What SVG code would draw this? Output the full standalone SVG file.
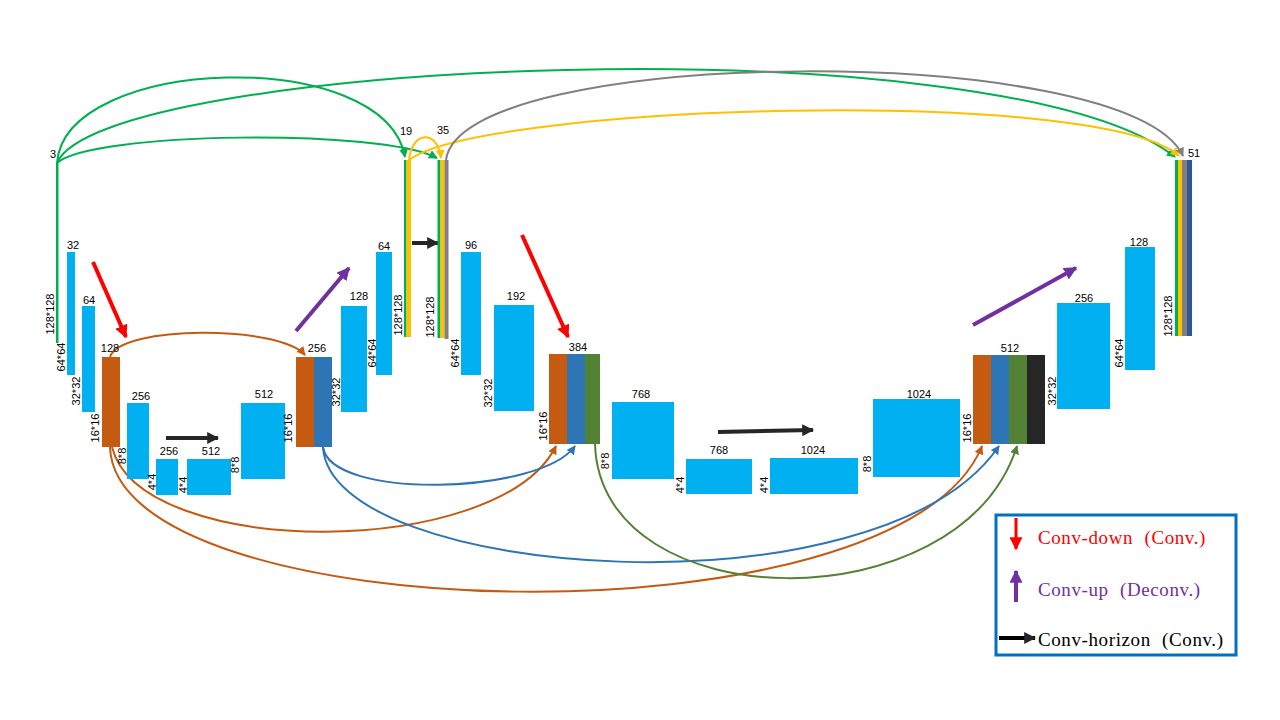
<svg xmlns="http://www.w3.org/2000/svg" width="1280" height="720" viewBox="0 0 1280 720">
<style>
.c{fill:#00B0F0}
.br{fill:#C55A11}.bl{fill:#2E75B6}.gr{fill:#548235}.bk{fill:#262626}
.g{fill:#00B050}.y{fill:#FFC000}.gy{fill:#808080}.db{fill:#2F5597}
text{font-family:"Liberation Sans",Arial,sans-serif;font-size:11px;fill:#000}
.t{text-anchor:middle}
.r{text-anchor:middle}
.lg{font-family:"Liberation Serif","Times New Roman",serif;font-size:19px;letter-spacing:0.6px;word-spacing:6px}
.arc{fill:none;stroke-width:2}
</style>
<defs>
<marker id="mG" viewBox="0 0 10 10" refX="9" refY="5" markerUnits="userSpaceOnUse" markerWidth="9" markerHeight="9" orient="auto"><path d="M0,0L10,5L0,10z" fill="#00B050"/></marker>
<marker id="mY" viewBox="0 0 10 10" refX="9" refY="5" markerUnits="userSpaceOnUse" markerWidth="9" markerHeight="9" orient="auto"><path d="M0,0L10,5L0,10z" fill="#FFC000"/></marker>
<marker id="mGy" viewBox="0 0 10 10" refX="9" refY="5" markerUnits="userSpaceOnUse" markerWidth="9" markerHeight="9" orient="auto"><path d="M0,0L10,5L0,10z" fill="#808080"/></marker>
<marker id="mBr" viewBox="0 0 10 10" refX="9" refY="5" markerUnits="userSpaceOnUse" markerWidth="9" markerHeight="9" orient="auto"><path d="M0,0L10,5L0,10z" fill="#C55A11"/></marker>
<marker id="mBl" viewBox="0 0 10 10" refX="9" refY="5" markerUnits="userSpaceOnUse" markerWidth="9" markerHeight="9" orient="auto"><path d="M0,0L10,5L0,10z" fill="#2E75B6"/></marker>
<marker id="mGr" viewBox="0 0 10 10" refX="9" refY="5" markerUnits="userSpaceOnUse" markerWidth="9" markerHeight="9" orient="auto"><path d="M0,0L10,5L0,10z" fill="#548235"/></marker>
<marker id="mR" viewBox="0 0 10 10" refX="9" refY="5" markerUnits="userSpaceOnUse" markerWidth="13" markerHeight="13" orient="auto"><path d="M0,0L10,5L0,10z" fill="#FF0000"/></marker>
<marker id="mP" viewBox="0 0 10 10" refX="9" refY="5" markerUnits="userSpaceOnUse" markerWidth="13" markerHeight="13" orient="auto"><path d="M0,0L10,5L0,10z" fill="#7030A0"/></marker>
<marker id="mK" viewBox="0 0 10 10" refX="9" refY="5" markerUnits="userSpaceOnUse" markerWidth="12" markerHeight="12" orient="auto"><path d="M0,0L10,5L0,10z" fill="#262626"/></marker>
</defs>
<rect width="1280" height="720" fill="#fff"/>

<g id="connectors">
<path class="arc" d="M57,163 C65,55 385,45 405,157" stroke="#00B050" stroke-width="3" marker-end="url(#mG)"/>
<path class="arc" d="M57,163 C90,132 380,128 437,158" stroke="#00B050" marker-end="url(#mG)"/>
<path class="arc" d="M57,163 C100,60 1000,20 1175,157" stroke="#00B050" marker-end="url(#mG)"/>
<path class="arc" d="M409,160 C412,130 438,130 441,158" stroke="#FFC000" marker-end="url(#mY)"/>
<path class="arc" d="M409,160 C480,105 1100,85 1179,156" stroke="#FFC000" marker-end="url(#mY)"/>
<path class="arc" d="M446,160 C460,45 1130,40 1183,156" stroke="#808080" marker-end="url(#mGy)"/>
<path class="arc" d="M110,357 C120,325 280,325 305,355" stroke="#C55A11" stroke-width="2.5" marker-end="url(#mBr)"/>
<path class="arc" d="M112,447 C140,560 500,560 556,446" stroke="#C55A11" marker-end="url(#mBr)"/>
<path class="arc" d="M110,447 C115,630 900,650 982,446" stroke="#C55A11" marker-end="url(#mBr)"/>
<path class="arc" d="M323,447 C330,500 540,495 575,446" stroke="#2E75B6" marker-end="url(#mBl)"/>
<path class="arc" d="M323,447 C330,580 880,620 999,446" stroke="#2E75B6" marker-end="url(#mBl)"/>
<path class="arc" d="M595,444 C600,620 960,625 1017,446" stroke="#548235" marker-end="url(#mGr)"/>
<line x1="93" y1="262" x2="126" y2="337" stroke="#FF0000" stroke-width="4" marker-end="url(#mR)"/>
<line x1="522" y1="235" x2="568" y2="337" stroke="#FF0000" stroke-width="4" marker-end="url(#mR)"/>
<line x1="296" y1="331" x2="349" y2="268" stroke="#7030A0" stroke-width="4" marker-end="url(#mP)"/>
<line x1="973" y1="325" x2="1076" y2="268" stroke="#7030A0" stroke-width="4" marker-end="url(#mP)"/>
<line x1="166" y1="438" x2="218" y2="438" stroke="#262626" stroke-width="4" marker-end="url(#mK)"/>
<line x1="412" y1="243" x2="438" y2="243" stroke="#262626" stroke-width="4" marker-end="url(#mK)"/>
<line x1="718" y1="432" x2="813" y2="430" stroke="#262626" stroke-width="4" marker-end="url(#mK)"/>
</g>

<g id="n-input"><rect class="g" x="56" y="163" width="2.5" height="180"/><text class="t" x="53" y="158">3</text>
<text transform="translate(54,314) rotate(-90)" class="r">128*128</text></g>
<g id="n-e1"><rect class="c" x="67" y="252" width="8" height="123"/><text class="t" x="73" y="249">32</text>
<text transform="translate(65,357) rotate(-90)" class="r">64*64</text></g>
<g id="n-e2"><rect class="c" x="82" y="306" width="13" height="106"/><text class="t" x="89" y="304">64</text>
<text transform="translate(80,391) rotate(-90)" class="r">32*32</text></g>
<g id="n-e3"><rect class="br" x="102" y="357" width="18" height="90"/><text class="t" x="110" y="352">128</text>
<text transform="translate(99,428) rotate(-90)" class="r">16*16</text></g>
<g id="n-e4"><rect class="c" x="127" y="403" width="22" height="76"/><text class="t" x="141" y="400">256</text>
<text transform="translate(126,456) rotate(-90)" class="r">8*8</text></g>
<g id="n-e5"><rect class="c" x="156" y="459" width="22" height="36"/><text class="t" x="169" y="455">256</text>
<text transform="translate(156,482) rotate(-90)" class="r">4*4</text></g>
<g id="n-e6"><rect class="c" x="187" y="459" width="44" height="36"/><text class="t" x="211" y="455">512</text>
<text transform="translate(187,485) rotate(-90)" class="r">4*4</text></g>
<g id="n-d1"><rect class="c" x="241" y="403" width="44" height="76"/><text class="t" x="264" y="398">512</text>
<text transform="translate(239,465) rotate(-90)" class="r">8*8</text></g>
<g id="n-d2"><rect class="br" x="296" y="357" width="18" height="90"/><rect class="bl" x="314" y="357" width="18" height="90"/><text class="t" x="317" y="352">256</text>
<text transform="translate(292,428) rotate(-90)" class="r">16*16</text></g>
<g id="n-d3"><rect class="c" x="341" y="306" width="26" height="106"/><text class="t" x="359" y="300">128</text>
<text transform="translate(340,392) rotate(-90)" class="r">32*32</text></g>
<g id="n-d4"><rect class="c" x="376" y="252" width="16" height="123"/><text class="t" x="384" y="250">64</text>
<text transform="translate(376,353) rotate(-90)" class="r">64*64</text></g>
<g id="n-o1"><rect class="g" x="404" y="160" width="2.5" height="177"/><rect class="y" x="406.5" y="160" width="4.5" height="177"/><text class="t" x="406" y="135">19</text>
<text transform="translate(402,315) rotate(-90)" class="r">128*128</text></g>
<g id="n-o2"><rect class="g" x="437.5" y="160" width="3" height="178"/><rect class="y" x="440.5" y="160" width="4" height="178"/><rect class="gy" x="444.5" y="160" width="4" height="179"/><text class="t" x="443" y="134">35</text>
<text transform="translate(434,317) rotate(-90)" class="r">128*128</text></g>
<g id="n-f1"><rect class="c" x="461" y="252" width="20" height="123"/><text class="t" x="471" y="249">96</text>
<text transform="translate(459,353) rotate(-90)" class="r">64*64</text></g>
<g id="n-f2"><rect class="c" x="494" y="305" width="40" height="106"/><text class="t" x="516" y="300">192</text>
<text transform="translate(492,393) rotate(-90)" class="r">32*32</text></g>
<g id="n-f3"><rect class="br" x="549" y="354" width="18" height="90"/><rect class="bl" x="567" y="354" width="18" height="90"/><rect class="gr" x="585" y="354" width="15" height="90"/><text class="t" x="578" y="351">384</text>
<text transform="translate(547,426) rotate(-90)" class="r">16*16</text></g>
<g id="n-f4"><rect class="c" x="612" y="402" width="62" height="77"/><text class="t" x="641" y="398">768</text>
<text transform="translate(609,461) rotate(-90)" class="r">8*8</text></g>
<g id="n-f5"><rect class="c" x="686" y="459" width="66" height="35"/><text class="t" x="719" y="454">768</text>
<text transform="translate(684,485) rotate(-90)" class="r">4*4</text></g>
<g id="n-f6"><rect class="c" x="770" y="458" width="88" height="36"/><text class="t" x="813" y="454">1024</text>
<text transform="translate(768,485) rotate(-90)" class="r">4*4</text></g>
<g id="n-g1"><rect class="c" x="873" y="399" width="87" height="78"/><text class="t" x="919" y="398">1024</text>
<text transform="translate(871,464) rotate(-90)" class="r">8*8</text></g>
<g id="n-g2"><rect class="br" x="973" y="355" width="18" height="89"/><rect class="bl" x="991" y="355" width="18" height="89"/><rect class="gr" x="1009" y="355" width="18" height="89"/><rect class="bk" x="1027" y="355" width="18" height="89"/><text class="t" x="1010" y="352">512</text>
<text transform="translate(971,428) rotate(-90)" class="r">16*16</text></g>
<g id="n-g3"><rect class="c" x="1057" y="303" width="53" height="106"/><text class="t" x="1084" y="302">256</text>
<text transform="translate(1056,391) rotate(-90)" class="r">32*32</text></g>
<g id="n-g4"><rect class="c" x="1125" y="247" width="30" height="123"/><text class="t" x="1139" y="246">128</text>
<text transform="translate(1123,353) rotate(-90)" class="r">64*64</text></g>
<g id="n-out"><rect class="g" x="1175" y="160" width="3" height="176"/><rect class="y" x="1178" y="160" width="4" height="176"/><rect class="gy" x="1182" y="160" width="5" height="176"/><rect class="db" x="1187" y="160" width="5" height="176"/><text class="t" x="1194" y="157">51</text>
<text transform="translate(1172,316) rotate(-90)" class="r">128*128</text></g>

<g id="legend">
<rect x="996" y="515" width="240" height="140" fill="#fff" stroke="#0070C0" stroke-width="3"/>
<line x1="1016" y1="518" x2="1016" y2="549" stroke="#FF0000" stroke-width="3" marker-end="url(#mR)"/>
<text class="lg" x="1038" y="544" style="fill:#FF0000">Conv-down (Conv.)</text>
<line x1="1016" y1="602" x2="1016" y2="571" stroke="#7030A0" stroke-width="4" marker-end="url(#mP)"/>
<text class="lg" x="1038" y="596" style="fill:#7030A0">Conv-up (Deconv.)</text>
<line x1="999" y1="638" x2="1035" y2="638" stroke="#000" stroke-width="4" marker-end="url(#mK)"/>
<text class="lg" x="1038" y="646">Conv-horizon (Conv.)</text>
</g>
</svg>
